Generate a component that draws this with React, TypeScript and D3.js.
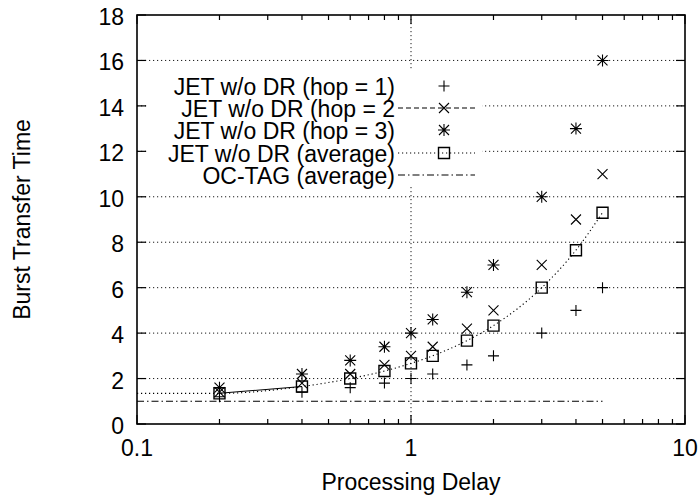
import React from 'react';
import * as d3 from 'd3';

// values
const delays = [0.2, 0.4, 0.6, 0.8, 1, 1.2, 1.6, 2, 3, 4, 5];
const hop1 = [1.2, 1.4, 1.6, 1.8, 2.0, 2.2, 2.6, 3.0, 4.0, 5.0, 6.0];
const hop2 = [1.4, 1.8, 2.2, 2.6, 3.0, 3.4, 4.2, 5.0, 7.0, 9.0, 11.0];
const hop3 = [1.6, 2.2, 2.8, 3.4, 4.0, 4.6, 5.8, 7.0, 10.0, 13.0, 16.0];
const average = [1.35, 1.65, 2.0, 2.33, 2.67, 3.0, 3.67, 4.33, 6.0, 7.65, 9.3];
const ocTagX = [0.1, 5];
const ocTagY = [1, 1];

const yTicks = [0, 2, 4, 6, 8, 10, 12, 14, 16, 18];
const xMajor = [0.1, 1, 10];
const xMinor = [0.2, 0.3, 0.4, 0.5, 0.6, 0.7, 0.8, 0.9, 2, 3, 4, 5, 6, 7, 8, 9];
const xLabels = ['0.1', '1', '10'];

const legendLabels = [
  'JET w/o DR (hop = 1)',
  'JET w/o DR (hop = 2',
  'JET w/o DR (hop = 3)',
  'JET w/o DR (average)',
  'OC-TAG (average)',
];

const W = 699;
const H = 499;
const left = 137;
const right = 685;
const top = 15;
const bottom = 424;
const font = 'Liberation Sans, Arial, Helvetica, sans-serif';
const fs = 23;

const x = d3.scaleLog().domain([0.1, 10]).range([left, right]);
const y = d3.scaleLinear().domain([0, 18]).range([bottom, top]);

const plus = (cx: number, cy: number, s = 5.5) =>
  `M${cx - s},${cy}h${2 * s}M${cx},${cy - s}v${2 * s}`;
const cross = (cx: number, cy: number, s = 5) =>
  `M${cx - s},${cy - s}l${2 * s},${2 * s}M${cx + s},${cy - s}l${-2 * s},${2 * s}`;
const star = (cx: number, cy: number) => plus(cx, cy, 6) + cross(cx, cy, 5);
const square = (cx: number, cy: number, s = 5.5) =>
  `M${cx - s},${cy - s}h${2 * s}v${2 * s}h${-2 * s}Z`;

const dotted = '1.2,2.8';
const dashed = '5,3';
const dashDot = '7,3,1.5,3';

export default function App() {
  const avgPts: [number, number][] = [[0.1, average[0]], ...delays.map((d, i) => [d, average[i]] as [number, number])];
  const avgLine = d3
    .line<[number, number]>()
    .x((d) => x(d[0]))
    .y((d) => y(d[1]))
    .curve(d3.curveMonotoneX)(avgPts);
  const firstSeg = d3
    .line<number>()
    .x((d) => x(delays[d]))
    .y((d) => y(average[d]))([0, 1]);
  const ocLine = d3
    .line<number>()
    .x((d, i) => x(ocTagX[i]))
    .y((d) => y(d))(ocTagY);

  const legendY = [86, 108, 130, 153, 175];
  const lx0 = 398;
  const lx1 = 475;
  const lm = 444;

  return (
    <svg width={W} height={H} style={{ position: 'absolute', left: 0, top: 0, background: '#fff' }}>
      <rect width={W} height={H} fill="#fff" />
      {/* grid */}
      <g stroke="#000" strokeWidth={0.9} strokeDasharray={dotted}>
        {yTicks.slice(1, -1).map((t) => (
          <line key={t} x1={left} x2={right} y1={y(t)} y2={y(t)} />
        ))}
        <line x1={x(1)} x2={x(1)} y1={top} y2={bottom} />
      </g>
      {/* legend background */}
      <rect x={left + 10} y={71} width={335} height={116} fill="#fff" />

      {/* ticks */}
      <g stroke="#000" strokeWidth={1.2}>
        {yTicks.map((t) => (
          <g key={t}>
            <line x1={left} x2={left + 9} y1={y(t)} y2={y(t)} />
            <line x1={right} x2={right - 9} y1={y(t)} y2={y(t)} />
          </g>
        ))}
        {xMajor.map((t) => (
          <g key={t}>
            <line x1={x(t)} x2={x(t)} y1={bottom} y2={bottom - 9} />
            <line x1={x(t)} x2={x(t)} y1={top} y2={top + 9} />
          </g>
        ))}
        {xMinor.map((t) => (
          <g key={t}>
            <line x1={x(t)} x2={x(t)} y1={bottom} y2={bottom - 5} />
            <line x1={x(t)} x2={x(t)} y1={top} y2={top + 5} />
          </g>
        ))}
      </g>

      {/* series */}
      <g fill="none" stroke="#000" strokeWidth={1.1}>
        <path d={ocLine || ''} strokeDasharray={dashDot} />
        <path d={avgLine || ''} strokeDasharray={dotted} />
        <path d={firstSeg || ''} />
        {delays.map((d, i) => (
          <g key={d}>
            <path d={plus(x(d), y(hop1[i]))} />
            <path d={cross(x(d), y(hop2[i]))} />
            <path d={star(x(d), y(hop3[i]))} />
            <path d={square(x(d), y(average[i]))} strokeWidth={1.4} />
          </g>
        ))}
      </g>

      {/* legend */}
      <g fontFamily={font} fontSize={fs} textAnchor="end">
        {legendLabels.map((l, i) => (
          <text key={l} x={395} y={legendY[i] + 1} dominantBaseline="central">
            {l}
          </text>
        ))}
      </g>
      <g fill="none" stroke="#000" strokeWidth={1.1}>
        <path d={plus(lm, legendY[0])} />
        <line x1={lx0} x2={lx1} y1={legendY[1]} y2={legendY[1]} strokeDasharray={dashed} />
        <path d={cross(lm, legendY[1])} />
        <path d={star(lm, legendY[2])} />
        <line x1={lx0} x2={lx1} y1={legendY[3]} y2={legendY[3]} strokeDasharray={dotted} />
        <path d={square(lm, legendY[3])} strokeWidth={1.4} />
        <line x1={lx0} x2={lx1} y1={legendY[4]} y2={legendY[4]} strokeDasharray={dashDot} />
      </g>

      {/* frame */}
      <rect x={left} y={top} width={right - left} height={bottom - top} fill="none" stroke="#000" strokeWidth={1.6} />

      {/* tick labels */}
      <g fontFamily={font} fontSize={fs}>
        {yTicks.map((t) => (
          <text key={t} x={left - 13} y={y(t) + 2} textAnchor="end" dominantBaseline="central">
            {t}
          </text>
        ))}
        {xMajor.map((t, i) => (
          <text key={t} x={x(t)} y={456} textAnchor="middle">
            {xLabels[i]}
          </text>
        ))}
        <text x={(left + right) / 2} y={490} textAnchor="middle">
          Processing Delay
        </text>
        <text transform={`translate(30,${(top + bottom) / 2}) rotate(-90)`} textAnchor="middle">
          Burst Transfer Time
        </text>
      </g>
    </svg>
  );
}
